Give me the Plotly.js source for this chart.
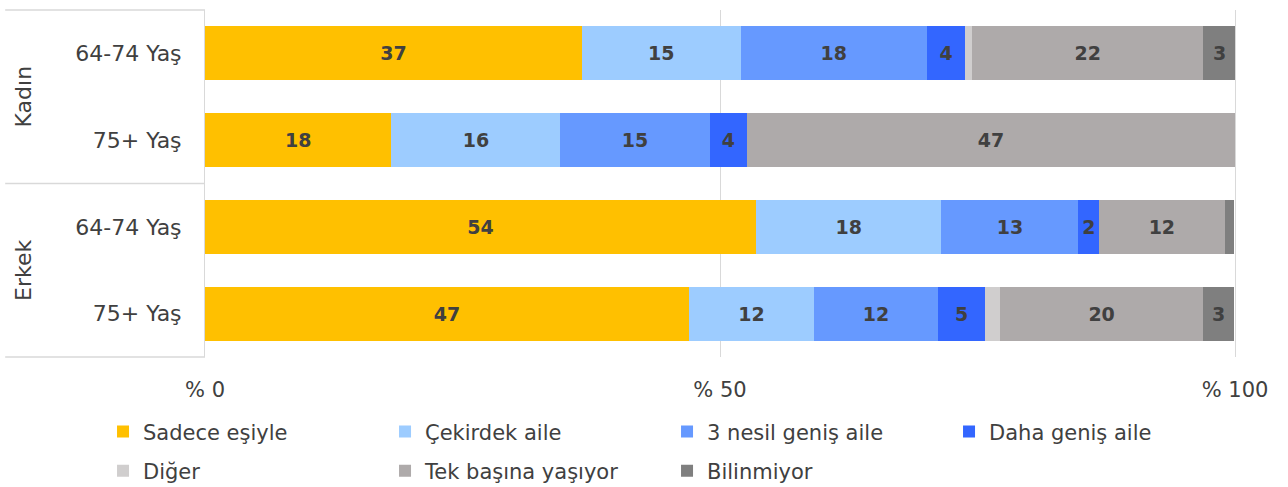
<!DOCTYPE html>
<html>
<head>
<meta charset="utf-8">
<script src="https://cdn.plot.ly/plotly-3.0.1.min.js"></script>
<style>
  html, body { margin: 0; padding: 0; background: #fff; }
  #chart { width: 1288px; height: 487px; }
</style>
</head>
<body>
<div id="chart"></div>
<script>
// rows, top to bottom
const rowKeys = ['K64', 'K75', 'E64', 'E75'];
const rowLabels = ['64-74 Yaş', '75+ Yaş', '64-74 Yaş', '75+ Yaş'];
const groupLabels = ['Kadın', 'Erkek'];

const seriesNames = ['Sadece eşiyle', 'Çekirdek aile', '3 nesil geniş aile', 'Daha geniş aile',
                     'Diğer', 'Tek başına yaşıyor', 'Bilinmiyor'];
const seriesColors = ['#FFC000', '#9DCCFF', '#6699FF', '#3366FF', '#D0CECE', '#AEAAAA', '#7F7F7F'];

// percentages
const sadeceEsiyle = [36.6, 18.1, 53.5, 47.0];
const cekirdekAile = [15.4, 16.4, 18.0, 12.1];
const ucNesil      = [18.1, 14.5, 13.3, 12.1];
const dahaGenis    = [3.7, 3.6, 2.0, 4.5];
const diger        = [0.7, 0.0, 0.0, 1.5];
const tekBasina    = [22.4, 47.4, 12.2, 19.7];
const bilinmiyor   = [3.2, 0.0, 0.9, 3.0];

const allSeries = [sadeceEsiyle, cekirdekAile, ucNesil, dahaGenis, diger, tekBasina, bilinmiyor];

const fontFamily = 'DejaVu Sans, sans-serif';
const textColor = '#404040';
const lineColor = '#D9D9D9';

const traces = allSeries.map(function(vals, i) {
    return {
        type: 'bar',
        orientation: 'h',
        name: seriesNames[i],
        x: vals,
        y: rowKeys,
        marker: { color: seriesColors[i] },
        text: vals.map(v => v >= 1.8 ? String(Math.round(v)) : ''),
        textposition: 'inside',
        insidetextanchor: 'middle',
        textangle: 0,
        textfont: { family: 'DejaVu Sans, sans-serif', size: 19, color: textColor, weight: 'bold' },
        hoverinfo: 'name+x',
        legend: i < 4 ? 'legend' : 'legend2'
    };
});

const legendBase = {
    orientation: 'h',
    x: -0.099,
    xanchor: 'left',
    yanchor: 'middle',
    entrywidth: 237,
    entrywidthmode: 'pixels',
    font: { family: fontFamily, size: 21, color: textColor },
    bgcolor: 'rgba(0,0,0,0)',
    traceorder: 'normal'
};

const layout = {
    width: 1288,
    height: 487,
    margin: { l: 205, r: 53, t: 10, b: 130, autoexpand: false },
    paper_bgcolor: '#fff',
    plot_bgcolor: '#fff',
    barmode: 'stack',
    bargap: 0.38,
    font: { family: fontFamily, color: textColor },
    xaxis: {
        range: [0, 100],
        tickvals: [0, 50, 100],
        ticktext: ['% 0', '% 50', '% 100'],
        showgrid: true,
        gridcolor: lineColor,
        gridwidth: 1,
        zeroline: false,
        showline: false,
        ticks: '',
        ticklabelstandoff: 18,
        tickfont: { family: fontFamily, size: 21, color: textColor },
        fixedrange: true
    },
    yaxis: {
        type: 'category',
        categoryorder: 'array',
        categoryarray: rowKeys,
        autorange: 'reversed',
        tickvals: rowKeys,
        ticktext: rowLabels,
        ticks: '',
        ticklabelstandoff: 18,
        showgrid: false,
        zeroline: false,
        showline: true,
        mirror: true,
        linecolor: lineColor,
        linewidth: 1,
        tickfont: { family: fontFamily, size: 22, color: textColor },
        fixedrange: true
    },
    legend: Object.assign({}, legendBase, { y: -0.216 }),
    legend2: Object.assign({}, legendBase, { y: -0.3285 }),
    shapes: [
        { type: 'line', xref: 'paper', yref: 'paper', x0: -0.194, x1: 0, y0: 1, y1: 1, line: { color: lineColor, width: 1.5 } },
        { type: 'line', xref: 'paper', yref: 'paper', x0: -0.194, x1: 0, y0: 0.5, y1: 0.5, line: { color: lineColor, width: 1.5 } },
        { type: 'line', xref: 'paper', yref: 'paper', x0: -0.194, x1: 0, y0: 0, y1: 0, line: { color: lineColor, width: 1.5 } }
    ],
    annotations: [
        { text: groupLabels[0], xref: 'paper', yref: 'paper', x: -0.176, y: 0.75, textangle: -90,
          xanchor: 'center', yanchor: 'middle',
          showarrow: false, font: { family: fontFamily, size: 22, color: textColor } },
        { text: groupLabels[1], xref: 'paper', yref: 'paper', x: -0.176, y: 0.25, textangle: -90,
          xanchor: 'center', yanchor: 'middle',
          showarrow: false, font: { family: fontFamily, size: 22, color: textColor } }
    ]
};

Plotly.newPlot('chart', traces, layout, { displayModeBar: false, staticPlot: true });
</script>
</body>
</html>
